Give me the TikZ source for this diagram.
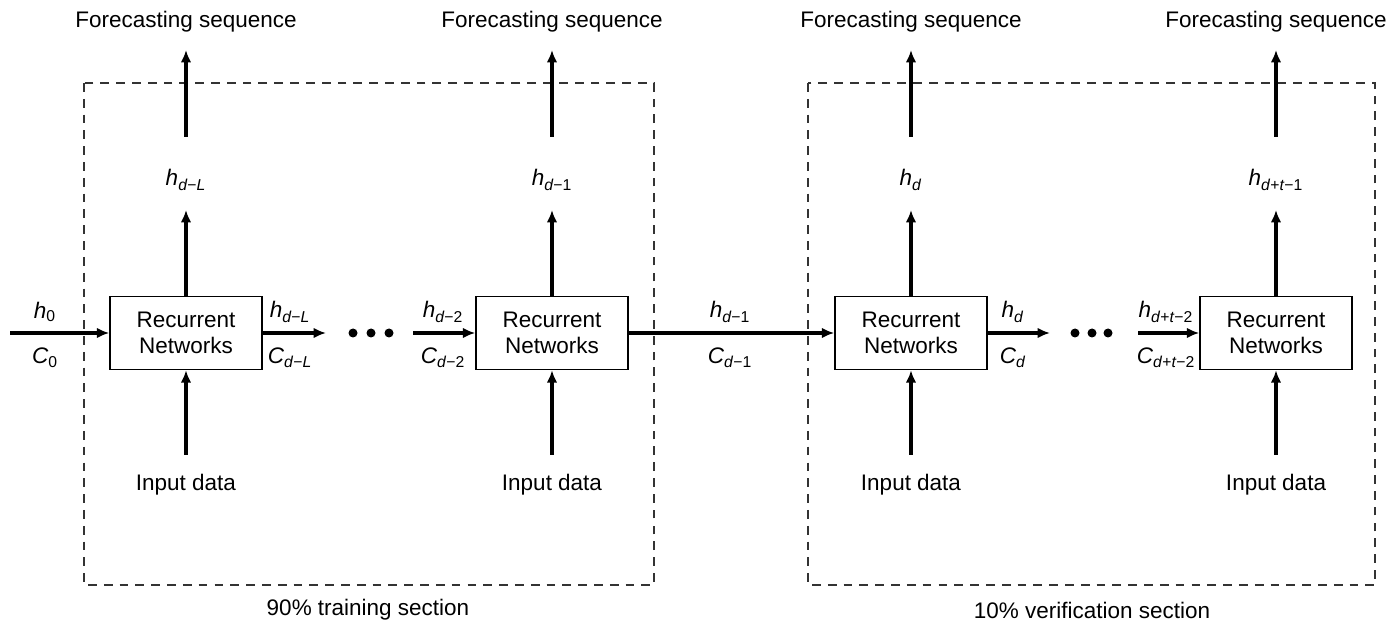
\documentclass[tikz,border=0pt]{standalone}
\usepackage{fontspec}
\setmainfont{Liberation Sans}
\usetikzlibrary{positioning,arrows.meta}
\newcommand{\vlab}[2]{\textit{#1}\textsubscript{#2}}
\newcommand{\vi}[1]{\textit{#1}}

\begin{document}
\begin{tikzpicture}[x=0.02cm, y=-0.02cm,
  every node/.style={font=\fontsize{12.8}{14.5}\selectfont},
  rnbox/.style={draw, line width=0.9pt, minimum width=3.04cm, minimum height=1.46cm, align=center, inner sep=0pt},
  flow/.style={line width=2.1pt, -{Latex[length=7pt,width=6pt]}},
  section/.style={draw=black!80, line width=0.8pt, dash pattern=on 5pt off 4pt},
  bigdot/.style={circle, fill, inner sep=0pt, minimum size=0.18cm}]
  \useasboundingbox (0,0) rectangle (1389,624);
  % dashed sections
  \draw[section] (84,83) rectangle (654,585);
  \draw[section] (808,83) rectangle (1375,585);
  \node (train) at (368,610) {90\% training section};
  \node (verif) at (1092,610) {10\% verification section};
  % recurrent blocks
  \node[rnbox] (rn1) at (186,333) {Recurrent\\Networks};
  \node[rnbox] (rn2) at (552,333) {Recurrent\\Networks};
  \node[rnbox] (rn3) at (911,333) {Recurrent\\Networks};
  \node[rnbox] (rn4) at (1276,333) {Recurrent\\Networks};
  % horizontal states
  \coordinate (start) at (10,333);
  \coordinate (end1) at (326,333);
  \coordinate (start2) at (413,333);
  \coordinate (end3) at (1050,333);
  \coordinate (start4) at (1138,333);
  \draw[flow] (start) -- (rn1.west);
  \draw[flow] (rn1.east) -- (end1);
  \draw[flow] (start2) -- (rn2.west);
  \draw[flow] (rn2.east) -- (rn3.west);
  \draw[flow] (rn3.east) -- (end3);
  \draw[flow] (start4) -- (rn4.west);
  \node (h0) at (45,312) {\vlab{h}{0}};
  \node (c0) at (45,358) {\vlab{C}{0}};
  \node (hdL) at (290,312) {\vlab{h}{\vi{d}−\vi{L}}};
  \node (cdL) at (290,358) {\vlab{C}{\vi{d}−\vi{L}}};
  \node (hd2) at (443,312) {\vlab{h}{\vi{d}−2}};
  \node (cd2) at (443,358) {\vlab{C}{\vi{d}−2}};
  \node (hd1) at (730,312) {\vlab{h}{\vi{d}−1}};
  \node (cd1) at (730,358) {\vlab{C}{\vi{d}−1}};
  \node (hd) at (1013,312) {\vlab{h}{\vi{d}}};
  \node (cd) at (1013,358) {\vlab{C}{\vi{d}}};
  \node (hdt2) at (1166,312) {\vlab{h}{\vi{d}+\vi{t}−2}};
  \node (cdt2) at (1166,358) {\vlab{C}{\vi{d}+\vi{t}−2}};
  % ellipses
  \node[bigdot] (dotA1) at (353,333) {};
  \node[bigdot] (dotA2) at (371,333) {};
  \node[bigdot] (dotA3) at (389,333) {};
  \node[bigdot] (dotB1) at (1075,333) {};
  \node[bigdot] (dotB2) at (1092,333) {};
  \node[bigdot] (dotB3) at (1108,333) {};
  % inputs
  \node (in1) at (186,485) {Input data};
  \node (in2) at (552,485) {Input data};
  \node (in3) at (911,485) {Input data};
  \node (in4) at (1276,485) {Input data};
  \coordinate (src1) at (186,455);
  \coordinate (src2) at (552,455);
  \coordinate (src3) at (911,455);
  \coordinate (src4) at (1276,455);
  \draw[flow] (src1) -- (rn1.south);
  \draw[flow] (src2) -- (rn2.south);
  \draw[flow] (src3) -- (rn3.south);
  \draw[flow] (src4) -- (rn4.south);
  % outputs
  \node (o1) at (186,180) {\vlab{h}{\vi{d}−\vi{L}}};
  \node (o2) at (552,180) {\vlab{h}{\vi{d}−1}};
  \node (o3) at (911,180) {\vlab{h}{\vi{d}}};
  \node (o4) at (1276,180) {\vlab{h}{\vi{d}+\vi{t}−1}};
  \coordinate (tip1) at (186,210);
  \coordinate (tip2) at (552,210);
  \coordinate (tip3) at (911,210);
  \coordinate (tip4) at (1276,210);
  \draw[flow] (rn1.north) -- (tip1);
  \draw[flow] (rn2.north) -- (tip2);
  \draw[flow] (rn3.north) -- (tip3);
  \draw[flow] (rn4.north) -- (tip4);
  \node (fc1) at (186,22) {Forecasting sequence};
  \node (fc2) at (552,22) {Forecasting sequence};
  \node (fc3) at (911,22) {Forecasting sequence};
  \node (fc4) at (1276,22) {Forecasting sequence};
  \coordinate (up1) at (186,137);
  \coordinate (up2) at (552,137);
  \coordinate (up3) at (911,137);
  \coordinate (up4) at (1276,137);
  \coordinate (fp1) at (186,50);
  \coordinate (fp2) at (552,50);
  \coordinate (fp3) at (911,50);
  \coordinate (fp4) at (1276,50);
  \draw[flow] (up1) -- (fp1);
  \draw[flow] (up2) -- (fp2);
  \draw[flow] (up3) -- (fp3);
  \draw[flow] (up4) -- (fp4);
\end{tikzpicture}
\end{document}
